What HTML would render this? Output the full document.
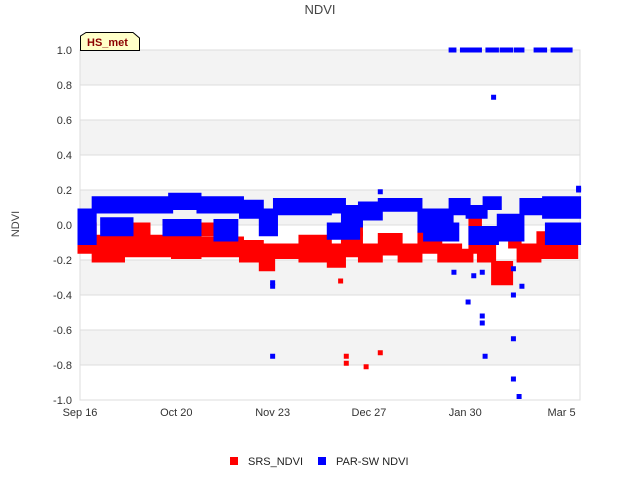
<!DOCTYPE html>
<html><head><meta charset="utf-8"><style>
body{margin:0;background:#fff;font-family:"Liberation Sans",sans-serif}
svg text{font-family:"Liberation Sans",sans-serif}
</style></head><body>
<svg id="chart" width="640" height="480">
<text x="320" y="14" text-anchor="middle" font-size="13" fill="#444">NDVI</text>
<text transform="translate(19,224) rotate(-90)" text-anchor="middle" font-size="11" fill="#444">NDVI</text>
<g id="bands"></g><g id="grid"></g>
<rect x="80" y="50" width="500" height="350" fill="none" stroke="#ddd"/>
<g id="yticks"></g><g id="xticks"></g><g id="marks"></g>
<g>
<path d="M80.5,50.5 V36 L86,32.5 H133 L139.5,38 V50.5 Z" fill="#ffffc8" stroke="#000"/>
<text x="87" y="46" font-size="11" font-weight="bold" fill="#8b0000">HS_met</text>
</g>
<g>
<rect x="230" y="457" width="8" height="8" fill="#f00"/>
<text x="248" y="465" font-size="11" fill="#222">SRS_NDVI</text>
<rect x="318" y="457" width="8" height="8" fill="#00f"/>
<text x="336" y="465" font-size="11" fill="#222">PAR-SW NDVI</text>
</g>
</svg>
<script>
// days since Sep 16
var xTickLabels=["Sep 16","Oct 20","Nov 23","Dec 27","Jan 30","Mar 5"];
var xTickDays=[0,34,68,102,136,170];
var yTicks=[1.0,0.8,0.6,0.4,0.2,0.0,-0.2,-0.4,-0.6,-0.8,-1.0];
var srsStart=[0,5,15,33,42,57,64,68,78,88,93,99,106,113,120,127,134,138,141,146,152,155,162,169, 18,40,94];
var srsEnd=[5,15,33,42,57,64,68,78,88,93,99,106,113,120,127,134,138,141,146,152,155,162,169,175, 24,48,99];
var srsLo=[-0.15,-0.2,-0.17,-0.18,-0.17,-0.2,-0.25,-0.18,-0.2,-0.23,-0.17,-0.2,-0.16,-0.2,-0.15,-0.2,-0.2,-0.15,-0.2,-0.33,-0.12,-0.2,-0.18,-0.18, -0.05,-0.05,-0.05];
var srsHi=[0.0,-0.07,-0.07,-0.07,-0.08,-0.1,-0.12,-0.12,-0.07,-0.12,-0.05,-0.12,-0.06,-0.12,-0.05,-0.12,-0.15,0.05,-0.08,-0.22,-0.05,-0.12,-0.05,-0.07, 0.0,0.0,0.0];
var srsOutDay=[94,94,101,106,92];
var srsOut=[-0.79,-0.75,-0.81,-0.73,-0.32];
var parStart=[0,5,32,42,57,64,69,88,93,99,106,120,131,137,143,148,156,164, 8,30,48,88,122,138,165];
var parEnd=[5,32,42,57,64,69,88,93,99,106,120,131,137,143,148,156,164,176, 18,42,55,98,133,147,176];
var parLo=[-0.1,0.08,0.1,0.08,0.05,-0.05,0.07,0.08,0.0,0.04,0.09,-0.03,0.07,0.05,0.1,-0.08,0.07,0.05, -0.05,-0.05,-0.08,-0.07,-0.08,-0.1,-0.1];
var parHi=[0.08,0.15,0.17,0.15,0.13,0.08,0.14,0.14,0.1,0.12,0.14,0.08,0.14,0.1,0.15,0.05,0.14,0.15, 0.03,0.02,0.02,0.0,0.0,-0.02,0.0];
var parOutDay=[68,68,68,106,132,137,139,142,142,142,143,146,153,153,153,155,156,153,176,176];
var parOut=[-0.33,-0.35,-0.75,0.19,-0.27,-0.44,-0.29,-0.52,-0.56,-0.27,-0.75,0.73,-0.4,-0.65,-0.88,-0.98,-0.35,-0.25,0.2,0.21];
var parTopDay=[131,132,135,136,137,138,139,140,141,144,145,146,147,149,150,151,152,154,155,156,161,162,163,164,167,168,169,170,171,172,173];
var parTop=[1,1,1,1,1,1,1,1,1,1,1,1,1,1,1,1,1,1,1,1,1,1,1,1,1,1,1,1,1,1,1];

var NS="http://www.w3.org/2000/svg";
function X(d){return 80+d*500/176.5;}
function Y(v){return 225-v*175;}
function el(t,a,p){var e=document.createElementNS(NS,t);for(var k in a)e.setAttribute(k,a[k]);document.getElementById(p).appendChild(e);return e;}
for(var i=0;i<yTicks.length-1;i++){
  if(i%2==0){var b=el("rect",{x:80,y:Y(yTicks[i]),width:500,height:Y(yTicks[i+1])-Y(yTicks[i]),fill:"#f3f3f3"},"bands");
  
  }
}
yTicks.forEach(function(v){
  var l=el("line",{x1:80,x2:580,y1:Y(v),y2:Y(v),stroke:"#ddd"},"grid");
  
  
  var t=el("text",{x:72,y:Y(v)+4,"text-anchor":"end","font-size":11,fill:"#333"},"yticks");
  t.textContent=v.toFixed(1);
  
  
});
xTickDays.forEach(function(d,i){
  var t=el("text",{x:X(d),y:416,"text-anchor":"middle","font-size":11,fill:"#333"},"xticks");
  t.textContent=xTickLabels[i];
  
  
});
function ranges(s,e,lo,hi,c,nm){
  for(var i=0;i<s.length;i++){
    var r=el("rect",{x:X(s[i])-2.5,y:Y(hi[i])-2.5,width:X(e[i])-X(s[i])+5,height:Y(lo[i])-Y(hi[i])+5,fill:c},"marks");
    
    
  }
}
function pts(d,v,c,nm){
  for(var i=0;i<d.length;i++){
    var r=el("rect",{x:X(d[i])-2.5,y:Y(v[i])-2.5,width:5,height:5,fill:c},"marks");
    
    
  }
}
ranges(srsStart,srsEnd,srsLo,srsHi,"#f00","srs-ndvi-points");
pts(srsOutDay,srsOut,"#f00","srs-ndvi-point");
ranges(parStart,parEnd,parLo,parHi,"#00f","par-sw-ndvi-points");
pts(parOutDay,parOut,"#00f","par-sw-ndvi-point");
pts(parTopDay,parTop,"#00f","par-sw-ndvi-point");
</script>
</body></html>
